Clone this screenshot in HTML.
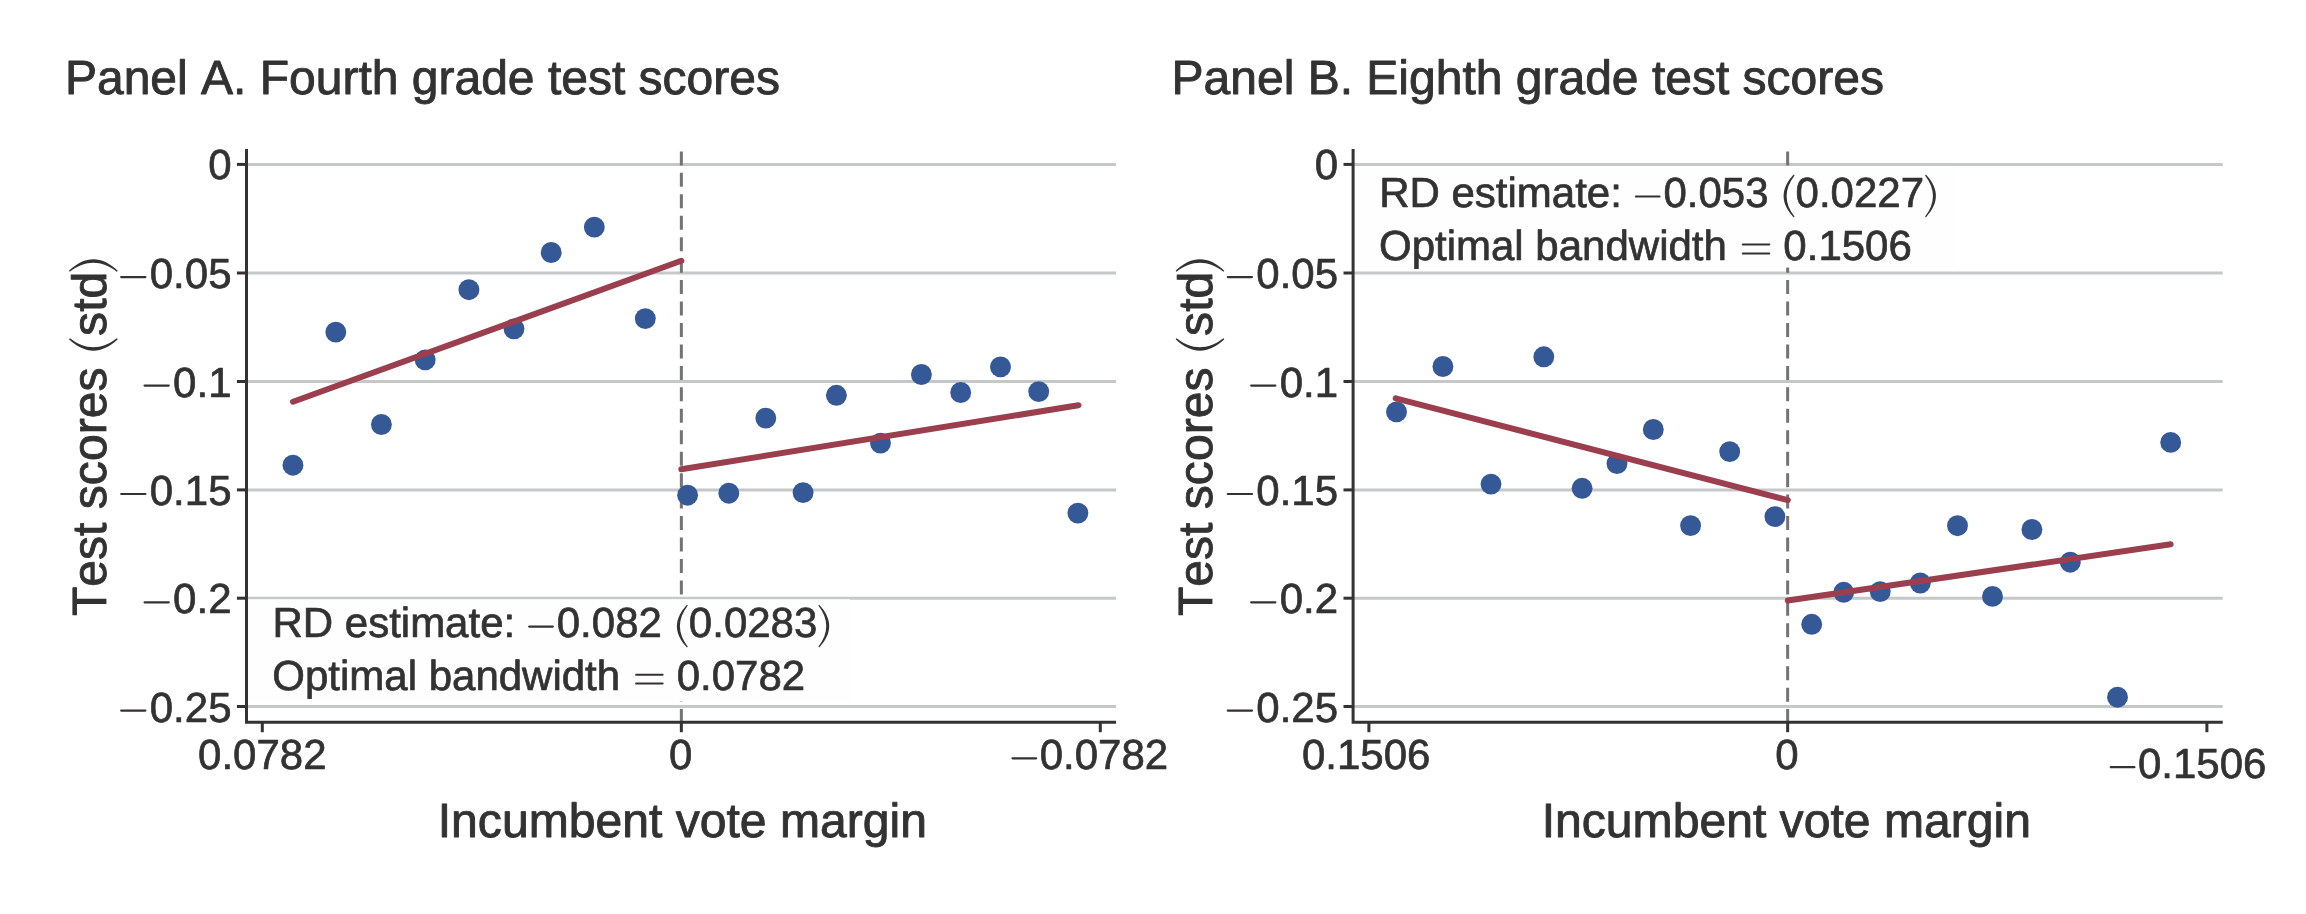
<!DOCTYPE html>
<html><head><meta charset="utf-8"><title>RD plots</title>
<style>
html,body{margin:0;padding:0;background:#fff;}
body{width:2306px;height:914px;overflow:hidden;}
svg{display:block;}
text{font-family:"Liberation Sans",sans-serif;fill:#343233;font-kerning:none;stroke:#343233;stroke-width:0.7px;stroke-linejoin:round;text-rendering:geometricPrecision;}
text.b{stroke-width:0.9px;}
</style></head>
<body>
<svg width="2306" height="914" viewBox="0 0 2306 914">
<defs>
<path id="lp" fill="#343233" d="M10.2,-32.3 C-3.2,-18 -3.2,-3.8 10.2,10.5 L11,9.7 C0.5,-4 0.5,-17.8 11,-31.5 Z"/>
<filter id="gr" x="0" y="0" width="2306" height="914" filterUnits="userSpaceOnUse" color-interpolation-filters="sRGB"><feColorMatrix type="saturate" values="0"/></filter>
</defs>
<rect width="2306" height="914" fill="#ffffff"/>
<line x1="246.5" y1="164.4" x2="1116.1" y2="164.4" stroke="#c6c7c9" stroke-width="3"/>
<line x1="246.5" y1="273" x2="1116.1" y2="273" stroke="#c6c7c9" stroke-width="3"/>
<line x1="246.5" y1="381.5" x2="1116.1" y2="381.5" stroke="#c6c7c9" stroke-width="3"/>
<line x1="246.5" y1="489.9" x2="1116.1" y2="489.9" stroke="#c6c7c9" stroke-width="3"/>
<line x1="246.5" y1="598.2" x2="1116.1" y2="598.2" stroke="#c6c7c9" stroke-width="3"/>
<line x1="246.5" y1="706.5" x2="1116.1" y2="706.5" stroke="#c6c7c9" stroke-width="3"/>
<line x1="681.35" y1="151.4" x2="681.35" y2="722" stroke="#737373" stroke-width="3" stroke-dasharray="14 7.45"/>
<rect x="248" y="599.2" width="601.5" height="102.3" fill="#fefefe"/>
<path d="M246.5,149 V722.3 H1116.1" fill="none" stroke="#343233" stroke-width="3"/>
<line x1="236.9" y1="164.4" x2="246.5" y2="164.4" stroke="#343233" stroke-width="3"/>
<line x1="236.9" y1="273" x2="246.5" y2="273" stroke="#343233" stroke-width="3"/>
<line x1="121.2" y1="277.1" x2="145.4" y2="277.1" stroke="#343233" stroke-width="2.2" stroke-linecap="round"/>
<line x1="236.9" y1="381.5" x2="246.5" y2="381.5" stroke="#343233" stroke-width="3"/>
<line x1="144.55" y1="385.6" x2="168.75" y2="385.6" stroke="#343233" stroke-width="2.2" stroke-linecap="round"/>
<line x1="236.9" y1="489.9" x2="246.5" y2="489.9" stroke="#343233" stroke-width="3"/>
<line x1="121.2" y1="494" x2="145.4" y2="494" stroke="#343233" stroke-width="2.2" stroke-linecap="round"/>
<line x1="236.9" y1="598.2" x2="246.5" y2="598.2" stroke="#343233" stroke-width="3"/>
<line x1="144.55" y1="602.3" x2="168.75" y2="602.3" stroke="#343233" stroke-width="2.2" stroke-linecap="round"/>
<line x1="236.9" y1="706.5" x2="246.5" y2="706.5" stroke="#343233" stroke-width="3"/>
<line x1="121.2" y1="710.6" x2="145.4" y2="710.6" stroke="#343233" stroke-width="2.2" stroke-linecap="round"/>
<line x1="262.3" y1="722" x2="262.3" y2="732.2" stroke="#343233" stroke-width="3"/>
<line x1="681.35" y1="722" x2="681.35" y2="732.2" stroke="#343233" stroke-width="3"/>
<line x1="1100.3" y1="722" x2="1100.3" y2="732.2" stroke="#343233" stroke-width="3"/>
<line x1="1012.5" y1="758.3" x2="1036.1" y2="758.3" stroke="#343233" stroke-width="2.2" stroke-linecap="round"/>
<circle cx="292.95" cy="465.2" r="10.45" fill="#355896"/>
<circle cx="335.8" cy="332.1" r="10.45" fill="#355896"/>
<circle cx="381.4" cy="424.5" r="10.45" fill="#355896"/>
<circle cx="425.2" cy="359.9" r="10.45" fill="#355896"/>
<circle cx="468.9" cy="289.7" r="10.45" fill="#355896"/>
<circle cx="514" cy="328.85" r="10.45" fill="#355896"/>
<circle cx="551.2" cy="252.5" r="10.45" fill="#355896"/>
<circle cx="594.3" cy="227.1" r="10.45" fill="#355896"/>
<circle cx="645.3" cy="318.6" r="10.45" fill="#355896"/>
<circle cx="687.6" cy="495.2" r="10.45" fill="#355896"/>
<circle cx="728.8" cy="493.2" r="10.45" fill="#355896"/>
<circle cx="765.8" cy="418.1" r="10.45" fill="#355896"/>
<circle cx="803.1" cy="492.6" r="10.45" fill="#355896"/>
<circle cx="836.4" cy="395.3" r="10.45" fill="#355896"/>
<circle cx="880.5" cy="443.1" r="10.45" fill="#355896"/>
<circle cx="921.4" cy="374.5" r="10.45" fill="#355896"/>
<circle cx="960.7" cy="392.5" r="10.45" fill="#355896"/>
<circle cx="1000.5" cy="366.9" r="10.45" fill="#355896"/>
<circle cx="1038.7" cy="391.6" r="10.45" fill="#355896"/>
<circle cx="1077.9" cy="513.1" r="10.45" fill="#355896"/>
<line x1="293" y1="401.7" x2="681.3" y2="260.8" stroke="#9b3f4f" stroke-width="6" stroke-linecap="round"/>
<line x1="681.3" y1="469.3" x2="1078.5" y2="405.3" stroke="#9b3f4f" stroke-width="6" stroke-linecap="round"/>
<line x1="529.2" y1="626.6" x2="552.8" y2="626.6" stroke="#343233" stroke-width="2.2" stroke-linecap="round"/>
<use href="#lp" transform="translate(676.8,637) scale(1)"/>
<use href="#lp" transform="translate(829.4,637) scale(-1,1)"/>
<line x1="636.1" y1="674.7" x2="662.6" y2="674.7" stroke="#343233" stroke-width="2.0" stroke-linecap="round"/>
<line x1="636.1" y1="683.5" x2="662.6" y2="683.5" stroke="#343233" stroke-width="2.0" stroke-linecap="round"/>
<line x1="1353.1" y1="164.4" x2="2222.7" y2="164.4" stroke="#c6c7c9" stroke-width="3"/>
<line x1="1353.1" y1="273" x2="2222.7" y2="273" stroke="#c6c7c9" stroke-width="3"/>
<line x1="1353.1" y1="381.5" x2="2222.7" y2="381.5" stroke="#c6c7c9" stroke-width="3"/>
<line x1="1353.1" y1="489.9" x2="2222.7" y2="489.9" stroke="#c6c7c9" stroke-width="3"/>
<line x1="1353.1" y1="598.2" x2="2222.7" y2="598.2" stroke="#c6c7c9" stroke-width="3"/>
<line x1="1353.1" y1="706.5" x2="2222.7" y2="706.5" stroke="#c6c7c9" stroke-width="3"/>
<line x1="1787.65" y1="151.4" x2="1787.65" y2="722" stroke="#737373" stroke-width="3" stroke-dasharray="14 7.45"/>
<rect x="1354.6" y="166" width="601.5" height="101.6" fill="#fefefe"/>
<path d="M1353.1,149 V722.3 H2222.7" fill="none" stroke="#343233" stroke-width="3"/>
<line x1="1343.5" y1="164.4" x2="1353.1" y2="164.4" stroke="#343233" stroke-width="3"/>
<line x1="1343.5" y1="273" x2="1353.1" y2="273" stroke="#343233" stroke-width="3"/>
<line x1="1227.8" y1="277.1" x2="1252" y2="277.1" stroke="#343233" stroke-width="2.2" stroke-linecap="round"/>
<line x1="1343.5" y1="381.5" x2="1353.1" y2="381.5" stroke="#343233" stroke-width="3"/>
<line x1="1251.15" y1="385.6" x2="1275.35" y2="385.6" stroke="#343233" stroke-width="2.2" stroke-linecap="round"/>
<line x1="1343.5" y1="489.9" x2="1353.1" y2="489.9" stroke="#343233" stroke-width="3"/>
<line x1="1227.8" y1="494" x2="1252" y2="494" stroke="#343233" stroke-width="2.2" stroke-linecap="round"/>
<line x1="1343.5" y1="598.2" x2="1353.1" y2="598.2" stroke="#343233" stroke-width="3"/>
<line x1="1251.15" y1="602.3" x2="1275.35" y2="602.3" stroke="#343233" stroke-width="2.2" stroke-linecap="round"/>
<line x1="1343.5" y1="706.5" x2="1353.1" y2="706.5" stroke="#343233" stroke-width="3"/>
<line x1="1227.8" y1="710.6" x2="1252" y2="710.6" stroke="#343233" stroke-width="2.2" stroke-linecap="round"/>
<line x1="1368.9" y1="722" x2="1368.9" y2="732.2" stroke="#343233" stroke-width="3"/>
<line x1="1787.65" y1="722" x2="1787.65" y2="732.2" stroke="#343233" stroke-width="3"/>
<line x1="2206.9" y1="722" x2="2206.9" y2="732.2" stroke="#343233" stroke-width="3"/>
<line x1="2110.8" y1="767.2" x2="2134.4" y2="767.2" stroke="#343233" stroke-width="2.2" stroke-linecap="round"/>
<circle cx="1396.5" cy="411.9" r="10.45" fill="#355896"/>
<circle cx="1442.9" cy="366.5" r="10.45" fill="#355896"/>
<circle cx="1543.8" cy="356.8" r="10.45" fill="#355896"/>
<circle cx="1491" cy="484.1" r="10.45" fill="#355896"/>
<circle cx="1582.1" cy="488.3" r="10.45" fill="#355896"/>
<circle cx="1617" cy="463.6" r="10.45" fill="#355896"/>
<circle cx="1653.3" cy="429.5" r="10.45" fill="#355896"/>
<circle cx="1690.6" cy="525.6" r="10.45" fill="#355896"/>
<circle cx="1729.7" cy="451.6" r="10.45" fill="#355896"/>
<circle cx="1774.9" cy="516.6" r="10.45" fill="#355896"/>
<circle cx="1811.7" cy="624.3" r="10.45" fill="#355896"/>
<circle cx="1843.7" cy="592.3" r="10.45" fill="#355896"/>
<circle cx="1880.2" cy="591.6" r="10.45" fill="#355896"/>
<circle cx="1920.3" cy="583" r="10.45" fill="#355896"/>
<circle cx="1957.5" cy="525.7" r="10.45" fill="#355896"/>
<circle cx="1992.5" cy="596.4" r="10.45" fill="#355896"/>
<circle cx="2031.9" cy="529.5" r="10.45" fill="#355896"/>
<circle cx="2070.3" cy="562.2" r="10.45" fill="#355896"/>
<circle cx="2117.5" cy="697.2" r="10.45" fill="#355896"/>
<circle cx="2170.7" cy="442.4" r="10.45" fill="#355896"/>
<line x1="1395.7" y1="398.3" x2="1787.8" y2="500.1" stroke="#9b3f4f" stroke-width="6" stroke-linecap="round"/>
<line x1="1787.8" y1="600.5" x2="2170.7" y2="544.3" stroke="#9b3f4f" stroke-width="6" stroke-linecap="round"/>
<line x1="1635.9" y1="196.5" x2="1659.5" y2="196.5" stroke="#343233" stroke-width="2.2" stroke-linecap="round"/>
<use href="#lp" transform="translate(1783.5,206.9) scale(1)"/>
<use href="#lp" transform="translate(1936.1,206.9) scale(-1,1)"/>
<line x1="1742.8" y1="244.6" x2="1769.3" y2="244.6" stroke="#343233" stroke-width="2.0" stroke-linecap="round"/>
<line x1="1742.8" y1="253.4" x2="1769.3" y2="253.4" stroke="#343233" stroke-width="2.0" stroke-linecap="round"/>
<g filter="url(#gr)">
<text x="64.95" y="93.9" font-size="48.0" class="b">Panel A. Fourth grade test scores</text>
<text x="231.5" y="179" font-size="42" text-anchor="end">0</text>
<text x="231.5" y="288" font-size="42" text-anchor="end">0.05</text>
<text x="231.5" y="396.5" font-size="42" text-anchor="end">0.1</text>
<text x="231.5" y="504.9" font-size="42" text-anchor="end">0.15</text>
<text x="231.5" y="613.2" font-size="42" text-anchor="end">0.2</text>
<text x="231.5" y="721.5" font-size="42" text-anchor="end">0.25</text>
<text x="198.06" y="769.4" font-size="42">0.0782</text>
<text x="680.65" y="769.4" font-size="42" text-anchor="middle">0</text>
<text x="1039.66" y="769.4" font-size="42">0.0782</text>
<text x="437.75" y="836.6" font-size="48.1" class="b">Incumbent vote margin</text>
<g transform="translate(105.8,616.1) rotate(-90)"><text x="0" y="0" font-size="48.1" class="b">Test scores</text><use href="#lp" transform="translate(265.3,0) scale(1.14)"/><text x="280.2" y="0" font-size="48.1" class="b">std</text><use href="#lp" transform="translate(357,0) scale(-1.14,1.14)"/></g>
<text x="272.45" y="637" font-size="42">RD estimate:</text>
<text x="556.76" y="637" font-size="42">0.082</text>
<text x="688.86" y="637" font-size="42">0.0283</text>
<text x="272.3" y="690.3" font-size="42">Optimal bandwidth</text>
<text x="676.66" y="690.3" font-size="42">0.0782</text>
<text x="1171.55" y="93.9" font-size="48.0" class="b">Panel B. Eighth grade test scores</text>
<text x="1338.1" y="179" font-size="42" text-anchor="end">0</text>
<text x="1338.1" y="288" font-size="42" text-anchor="end">0.05</text>
<text x="1338.1" y="396.5" font-size="42" text-anchor="end">0.1</text>
<text x="1338.1" y="504.9" font-size="42" text-anchor="end">0.15</text>
<text x="1338.1" y="613.2" font-size="42" text-anchor="end">0.2</text>
<text x="1338.1" y="721.5" font-size="42" text-anchor="end">0.25</text>
<text x="1301.96" y="769.4" font-size="42">0.1506</text>
<text x="1786.95" y="769.4" font-size="42" text-anchor="middle">0</text>
<text x="2137.96" y="778.3" font-size="42">0.1506</text>
<text x="1541.7" y="836.6" font-size="48.1" class="b">Incumbent vote margin</text>
<g transform="translate(1212.4,616.1) rotate(-90)"><text x="0" y="0" font-size="48.1" class="b">Test scores</text><use href="#lp" transform="translate(265.3,0) scale(1.14)"/><text x="280.2" y="0" font-size="48.1" class="b">std</text><use href="#lp" transform="translate(357,0) scale(-1.14,1.14)"/></g>
<text x="1379.15" y="206.9" font-size="42">RD estimate:</text>
<text x="1663.46" y="206.9" font-size="42">0.053</text>
<text x="1795.56" y="206.9" font-size="42">0.0227</text>
<text x="1379" y="260.2" font-size="42">Optimal bandwidth</text>
<text x="1783.36" y="260.2" font-size="42">0.1506</text>
</g>
</svg>
</body></html>
